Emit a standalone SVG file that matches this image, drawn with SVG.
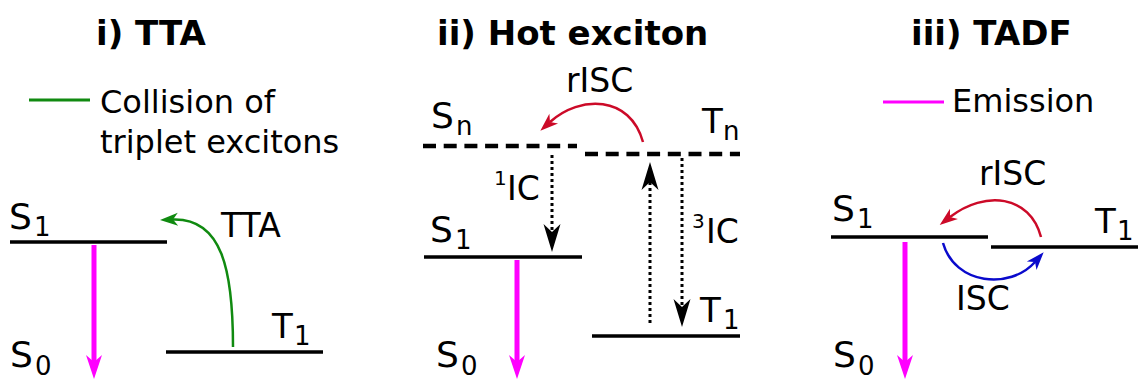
<svg xmlns="http://www.w3.org/2000/svg" width="1139" height="380" viewBox="0 0 1139 380">
<style>
text{font-family:"DejaVu Sans","Verdana",sans-serif;fill:#000}
.title{font-weight:bold;font-size:34px}
.lab{font-size:33px}
.big{font-size:36px}
.tt{font-size:34px}
.sub{font-size:26px}
.sup{font-size:20px}
.lvl{stroke:#000;stroke-width:3.5;fill:none}
.dash{stroke:#000;stroke-width:4.5;stroke-dasharray:13 7.7;fill:none}
.dot{stroke:#000;stroke-width:3;stroke-dasharray:3 3;fill:none}
.em{stroke:#ff00ff;stroke-width:5;fill:none}
.grn{stroke:#108a10;stroke-width:2.5;fill:none}
.red{stroke:#cc0a28;stroke-width:2.5;fill:none}
.blu{stroke:#0a0acc;stroke-width:2.5;fill:none}
</style>
<defs>
<marker id="mM" viewBox="-25 -9 26 18" refX="-17" refY="0" markerWidth="26" markerHeight="18" markerUnits="userSpaceOnUse" orient="auto"><path d="M0,0 L-24,-8 L-17,0 L-24,8 Z" fill="#ff00ff"/></marker>
<marker id="mK" viewBox="-29 -10 30 20" refX="-20" refY="0" markerWidth="30" markerHeight="20" markerUnits="userSpaceOnUse" orient="auto"><path d="M0,0 L-28,-8.5 L-20,0 L-28,8.5 Z" fill="#000"/></marker>
<marker id="mG" viewBox="-19 -8 20 16" refX="-13" refY="0" markerWidth="20" markerHeight="16" markerUnits="userSpaceOnUse" orient="auto"><path d="M0,0 L-18,-6.5 L-13,0 L-18,6.5 Z" fill="#108a10"/></marker>
<marker id="mR" viewBox="-19 -8 20 16" refX="-13" refY="0" markerWidth="20" markerHeight="16" markerUnits="userSpaceOnUse" orient="auto"><path d="M0,0 L-18,-6.5 L-13,0 L-18,6.5 Z" fill="#cc0a28"/></marker>
<marker id="mB" viewBox="-19 -8 20 16" refX="-13" refY="0" markerWidth="20" markerHeight="16" markerUnits="userSpaceOnUse" orient="auto"><path d="M0,0 L-18,-6.5 L-13,0 L-18,6.5 Z" fill="#0a0acc"/></marker>
</defs>

<g id="titles">
<text class="title" x="96" y="45">i) TTA</text>
<text class="title" x="437" y="45">ii) Hot exciton</text>
<text class="title" x="911" y="45">iii) TADF</text>
</g>

<g id="legend-tta">
<line x1="29" y1="100" x2="90" y2="100" stroke="#108a10" stroke-width="3"/>
<text class="lab" x="100" y="113" style="font-size:32px">Collision of</text>
<text class="lab" x="100" y="153" style="font-size:32px">triplet excitons</text>
</g>
<g id="legend-emission">
<line x1="883" y1="102" x2="944" y2="102" stroke="#ff00ff" stroke-width="3"/>
<text class="lab" x="952" y="112" style="font-size:32px">Emission</text>
</g>

<!-- Panel i -->
<g id="i-S1"><line class="lvl" x1="10" y1="242" x2="167" y2="242"/><text class="big" x="9" y="229">S</text><text class="sub" x="34" y="236">1</text></g>
<g id="i-T1"><line class="lvl" x1="166" y1="352" x2="323" y2="352"/><text class="tt" x="272" y="338">T</text><text class="sub" x="294" y="345">1</text></g>
<g id="i-S0"><text class="big" x="10" y="367">S</text><text class="sub" x="35" y="375">0</text></g>

<!-- Panel ii -->
<g id="ii-Sn"><line class="dash" x1="423" y1="146" x2="577" y2="146"/><text class="big" x="431" y="128">S</text><text class="sub" x="456" y="135">n</text></g>
<g id="ii-Tn"><line class="dash" x1="585" y1="154" x2="740" y2="154"/><text class="tt" x="702" y="133">T</text><text class="sub" x="723" y="140">n</text></g>
<g id="ii-S1"><line class="lvl" x1="424" y1="257" x2="582" y2="257"/><text class="big" x="430" y="242">S</text><text class="sub" x="455" y="249">1</text></g>
<g id="ii-T1"><line class="lvl" x1="592" y1="336" x2="740" y2="336"/><text class="tt" x="700" y="322">T</text><text class="sub" x="723" y="329">1</text></g>
<g id="ii-S0"><text class="big" x="436" y="367">S</text><text class="sub" x="461" y="375">0</text></g>

<!-- Panel iii -->
<g id="iii-S1"><line class="lvl" x1="831" y1="237" x2="988" y2="237"/><text class="big" x="832" y="221">S</text><text class="sub" x="857" y="228">1</text></g>
<g id="iii-T1"><line class="lvl" x1="991" y1="247" x2="1138" y2="247"/><text class="tt" x="1095" y="233">T</text><text class="sub" x="1117" y="240">1</text></g>
<g id="iii-S0"><text class="big" x="833" y="367">S</text><text class="sub" x="858" y="375">0</text></g>

<g id="connectors">
<!-- emission -->
<line class="em" x1="94" y1="245" x2="94" y2="362" marker-end="url(#mM)"/>
<line class="em" x1="517" y1="260" x2="517" y2="362" marker-end="url(#mM)"/>
<line class="em" x1="905" y1="242" x2="905" y2="362" marker-end="url(#mM)"/>
<!-- TTA -->
<path class="grn" d="M233,347 C233,270 222,218 173,219.5" marker-end="url(#mG)"/>
<!-- Hot exciton -->
<path class="red" d="M643,142 C630,95 580,95 550,122" marker-end="url(#mR)"/>
<line class="dot" x1="552" y1="155" x2="552" y2="232" marker-end="url(#mK)"/>
<line class="dot" x1="650" y1="323" x2="650" y2="182" marker-end="url(#mK)"/>
<line class="dot" x1="682" y1="158" x2="682" y2="307" marker-end="url(#mK)"/>
<!-- TADF -->
<path class="red" d="M1041,237 C1030,195 985,190 950,217" marker-end="url(#mR)"/>
<path class="blu" d="M943,243 C955,285 1010,290 1035,262" marker-end="url(#mB)"/>
</g>

<g id="connector-labels">
<text class="lab" x="221" y="237">TTA</text>
<text class="lab" x="566" y="92">rISC</text>
<text class="sup" x="494" y="185">1</text><text class="lab" x="507" y="200">IC</text>
<text class="sup" x="692" y="228">3</text><text class="lab" x="706" y="243">IC</text>
<text class="lab" x="979" y="185">rISC</text>
<text class="lab" x="956" y="310">ISC</text>
</g>
</svg>
